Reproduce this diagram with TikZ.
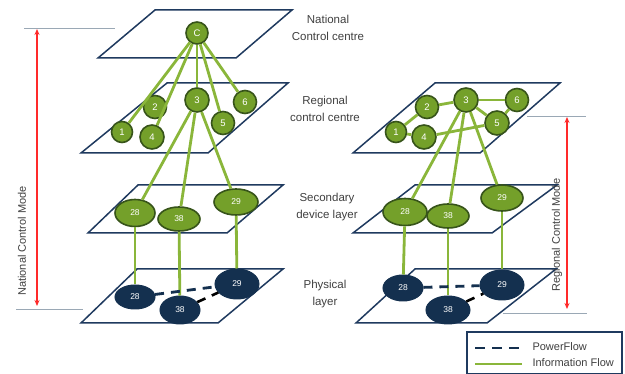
\documentclass[tikz,border=0pt]{standalone}
\usepackage{fontspec}
\setmainfont{Liberation Sans}
\usetikzlibrary{arrows.meta,shapes.geometric}
\definecolor{planec}{HTML}{1F3A5F}
\definecolor{gfill}{HTML}{74A02A}
\definecolor{gborder}{HTML}{37541A}
\definecolor{gline}{HTML}{8AB63A}
\definecolor{navy}{HTML}{14304F}
\definecolor{txt}{HTML}{404040}
\definecolor{redc}{HTML}{FF2A2A}
\definecolor{grayl}{HTML}{9AA8B5}
\tikzset{
  plane/.style={draw=planec, line width=1.5pt, fill=white},
  gnode/.style={circle, fill=gfill, draw=gborder, line width=1.6pt, inner sep=0pt, text=white, font=\fontsize{9.5}{10}\selectfont},
  gell/.style={ellipse, fill=gfill, draw=gborder, line width=1.6pt, inner sep=0pt, text=white, font=\fontsize{8.5}{9}\selectfont},
  nell/.style={ellipse, fill=navy, draw=navy, line width=1pt, inner sep=0pt, text=white, font=\fontsize{8.5}{9}\selectfont},
  info/.style={draw=gline, line width=2.8pt},
  power/.style={draw=navy, line width=2.8pt, dash pattern=on 9pt off 7pt},
  powerb/.style={draw=black, line width=2.6pt, dash pattern=on 9pt off 7pt},
  lbl/.style={text=txt, align=center, font=\fontsize{11.5}{17}\selectfont},
  modelbl/.style={text=txt, rotate=90, font=\fontsize{11}{13}\selectfont},
  redarrow/.style={draw=redc, line width=1.1pt, {Stealth[length=6pt,width=5pt]}-{Stealth[length=6pt,width=5pt]}},
  guide/.style={draw=grayl, line width=0.9pt}
}
\begin{document}
\begin{tikzpicture}[x=1pt,y=-1pt]
\useasboundingbox (0,0) rectangle (625,374);
\fill[white] (0,0) rectangle (625,374);

% ---------- planes ----------
\draw[plane] (155,10) -- (292,10) -- (236,58) -- (98,58) -- cycle;
\draw[plane] (167,83) -- (288,83) -- (208,153) -- (81,153) -- cycle;
\draw[plane] (138,185) -- (283,185) -- (227,233) -- (88,233) -- cycle;
\draw[plane] (137,269) -- (283,269) -- (218,323) -- (81,323) -- cycle;

\draw[plane] (435,83) -- (560,83) -- (480,153) -- (353,153) -- cycle;
\draw[plane] (415,185) -- (557,185) -- (492,233) -- (353,233) -- cycle;
\draw[plane] (415,269) -- (556,269) -- (487,323) -- (356,323) -- cycle;

% ---------- guides and red arrows ----------
\coordinate (gA1) at (24,28);  \coordinate (gA2) at (115,28);
\coordinate (gB1) at (16,309); \coordinate (gB2) at (83,309);
\draw[guide] (gA1) -- (gA2);
\draw[guide] (gB1) -- (gB2);
\coordinate (rA) at (37,29); \coordinate (rB) at (37,306);
\draw[redarrow] (rA) -- (rB);
\node[modelbl] (ncm) at (22,241) {National Control Mode};

\coordinate (gC1) at (527,116); \coordinate (gC2) at (586,116);
\coordinate (gD1) at (503,313); \coordinate (gD2) at (587,313);
\draw[guide] (gC1) -- (gC2);
\draw[guide] (gD1) -- (gD2);
\coordinate (rC) at (567,117); \coordinate (rD) at (567,309);
\draw[redarrow] (rC) -- (rD);
\node[modelbl] (rcm) at (557,235) {Regional Control Mode};

% ---------- left stack nodes ----------
\node[gnode, minimum size=22pt] (C) at (197,33) {C};
\node[gnode, minimum size=21pt] (L1) at (122,132) {1};
\node[gnode, minimum size=23pt] (L2) at (155,107) {2};
\node[gnode, minimum size=24pt] (L3) at (197,100) {3};
\node[gnode, minimum size=24pt] (L4) at (152,137) {4};
\node[gnode, minimum size=23pt] (L5) at (223,123) {5};
\node[gnode, minimum size=23pt] (L6) at (245,102) {6};

\node[gell, minimum width=40pt, minimum height=27pt] (LS28) at (135,213) {28};
\node[gell, minimum width=42pt, minimum height=24pt] (LS38) at (179,219) {38};
\node[gell, minimum width=44pt, minimum height=26pt] (LS29) at (236,202) {29};

\node[nell, minimum width=40pt, minimum height=24pt] (LP28) at (135,297) {28};
\node[nell, minimum width=40pt, minimum height=28pt] (LP38) at (180,310) {38};
\node[nell, minimum width=44pt, minimum height=30pt] (LP29) at (237,284) {29};

% left edges
\draw[info] (C) -- (L1);
\draw[info] (C) -- (L4);
\draw[info] (C) -- (L3);
\draw[info] (C) -- (L5);
\draw[info] (C) -- (L6);
\draw[info] (L3) -- (LS28);
\draw[info] (L3) -- (LS38);
\draw[info] (L3) -- (LS29);
\draw[info] (LS28) -- (LP28);
\draw[info] (LS38) -- (LP38);
\draw[info] (LS29) -- (LP29);
\draw[power] (LP28) -- (LP29);
\draw[powerb] (LP38) -- (LP29);

% ---------- right stack nodes ----------
\node[gnode, minimum size=21pt] (R1) at (396,132) {1};
\node[gnode, minimum size=23pt] (R2) at (427,107) {2};
\node[gnode, minimum size=24pt] (R3) at (466,100) {3};
\node[gnode, minimum size=24pt] (R4) at (424,137) {4};
\node[gnode, minimum size=24pt] (R5) at (497,123) {5};
\node[gnode, minimum size=23pt] (R6) at (517,100) {6};

\node[gell, minimum width=44pt, minimum height=27pt] (RS28) at (405,212) {28};
\node[gell, minimum width=42pt, minimum height=24pt] (RS38) at (448,216) {38};
\node[gell, minimum width=42pt, minimum height=26pt] (RS29) at (502,198) {29};

\node[nell, minimum width=40pt, minimum height=26pt] (RP28) at (403,288) {28};
\node[nell, minimum width=44pt, minimum height=28pt] (RP38) at (448,310) {38};
\node[nell, minimum width=44pt, minimum height=30pt] (RP29) at (502,285) {29};

% right edges
\draw[info] (R1) -- (R2);
\draw[info] (R1) -- (R4);
\draw[info] (R2) -- (R3);
\draw[info] (R3) -- (R6);
\draw[info] (R6) -- (R5);
\draw[info] (R4) -- (R5);
\draw[info] (R3) -- (R5);
\draw[info] (R3) -- (RS28);
\draw[info] (R3) -- (RS38);
\draw[info] (R3) -- (RS29);
\draw[info] (RS28) -- (RP28);
\draw[info] (RS38) -- (RP38);
\draw[info] (RS29) -- (RP29);
\draw[power] (RP28) -- (RP29);
\draw[powerb] (RP38) -- (RP29);

% ---------- layer labels ----------
\node[lbl] (tNat) at (328,27.5) {National\\Control centre};
\node[lbl] (tReg) at (325,109) {Regional\\control centre};
\node[lbl] (tSec) at (327,207) {Secondary\\device layer};
\node[lbl] (tPhy) at (325,294.5) {Physical\\layer};

% ---------- legend ----------
\draw[draw=planec, line width=1.2pt] (467,332) rectangle (622,373.5);
\coordinate (k1a) at (475,348); \coordinate (k1b) at (522,348);
\coordinate (k2a) at (475,364); \coordinate (k2b) at (522,364);
\draw[power, dash pattern=on 10pt off 7pt] (k1a) -- (k1b);
\draw[info] (k2a) -- (k2b);
\node[anchor=west, text=txt, font=\fontsize{11}{13}\selectfont] (kp) at (529,347) {PowerFlow};
\node[anchor=west, text=txt, font=\fontsize{11}{13}\selectfont] (ki) at (529,363) {Information Flow};
\end{tikzpicture}
\end{document}
